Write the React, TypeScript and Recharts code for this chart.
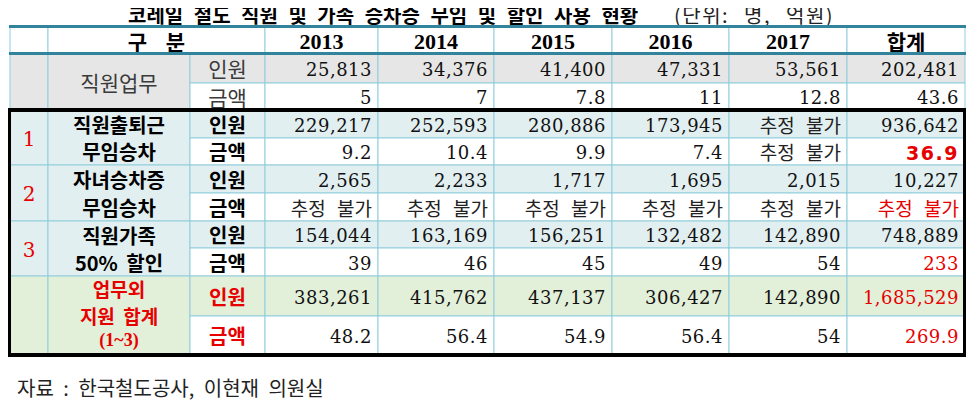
import { ScatterChart, Scatter, XAxis, YAxis } from 'recharts'

// table data (단위: 명, 억원); null = 추정 불가
const COLUMNS = ['2013', '2014', '2015', '2016', '2017', '합계']
const STAFF_PEOPLE = [25813, 34376, 41400, 47331, 53561, 202481]
const STAFF_AMOUNT = [5, 7, 7.8, 11, 12.8, 43.6]
const COMMUTE_PEOPLE = [229217, 252593, 280886, 173945, null, 936642]
const COMMUTE_AMOUNT = [9.2, 10.4, 9.9, 7.4, null, 36.9]
const CHILD_PEOPLE = [2565, 2233, 1717, 1695, 2015, 10227]
const CHILD_AMOUNT = [null, null, null, null, null, null]
const FAMILY_PEOPLE = [154044, 163169, 156251, 132482, 142890, 748889]
const FAMILY_AMOUNT = [39, 46, 45, 49, 54, 233]
const TOTAL_PEOPLE = [383261, 415762, 437137, 306427, 142890, 1685529]
const TOTAL_AMOUNT = [48.2, 56.4, 54.9, 56.4, 54, 269.9]

const GROUP_NUMBERS = ['', '1', '2', '3', '']
const GROUP_LABELS = [
  ['직원업무'],
  ['직원출퇴근', '무임승차'],
  ['자녀승차증', '무임승차'],
  ['직원가족', '50% 할인'],
  ['업무외', '지원 합계', '(1~3)'],
]
const MEASURES = ['인원', '금액']
const TITLE = '코레일 철도 직원 및 가족 승차증 무임 및 할인 사용 현황'
const UNIT = '(단위: 명, 억원)'
const SOURCE = '자료 : 한국철도공사, 이현재 의원실'

const GROUP_VALUES = [
  [STAFF_PEOPLE, STAFF_AMOUNT],
  [COMMUTE_PEOPLE, COMMUTE_AMOUNT],
  [CHILD_PEOPLE, CHILD_AMOUNT],
  [FAMILY_PEOPLE, FAMILY_AMOUNT],
  [TOTAL_PEOPLE, TOTAL_AMOUNT],
]

// layout
const W = 974
const H = 402
const COL_EDGES = [10, 48, 190, 265, 378, 494, 612, 729, 847, 965]
const ROW_EDGES = [27, 53, 83, 110, 138, 165, 193, 221, 248, 276, 316, 355]
const GROUP_FILLS = ['#e6e6e6', '#e2eff1', '#e2eff1', '#e2eff1', '#e2efd9']
const GRID = '#92cddc'
const TEAL = '#31849b'
const RED = '#e60000'
const KO = '"Noto Sans CJK KR", sans-serif'
const NUM = '"DejaVu Serif", serif'
const HEAD = '"Liberation Serif", serif'

interface TextLine {
  text: string
  dy?: number
  anchor?: 'start' | 'middle' | 'end'
  font?: string
  size?: number
  weight?: string | number
  color?: string
  spacing?: number
  wordSpacing?: number
}

interface TableCell {
  cx: number
  cy: number
  w: number
  h: number
  fill?: string
  lines: TextLine[]
}

const fmt = (v: number | null, people: boolean) =>
  v == null ? '추정 불가' : people ? v.toLocaleString('en-US') : String(v)

function buildCells(): TableCell[] {
  const cells: TableCell[] = []
  const push = (c0: number, c1: number, r0: number, r1: number, fill: string | undefined, lines: TextLine[]) => {
    const x0 = COL_EDGES[c0]
    const x1 = COL_EDGES[c1]
    const y0 = ROW_EDGES[r0]
    const y1 = ROW_EDGES[r1]
    cells.push({ cx: (x0 + x1) / 2, cy: (y0 + y1) / 2, w: x1 - x0, h: y1 - y0, fill, lines })
  }

  // header
  push(0, 1, 0, 1, '#ffffff', [])
  push(1, 3, 0, 1, '#ffffff', [{ text: '구 분', font: KO, size: 21, weight: 700, wordSpacing: 14, dy: 1 }])
  COLUMNS.forEach((c, i) => {
    const isKo = i === COLUMNS.length - 1
    push(3 + i, 4 + i, 0, 1, '#ffffff', [
      { text: c, font: isKo ? KO : HEAD, size: isKo ? 21 : 22, weight: 700, dy: 1 },
    ])
  })

  GROUP_VALUES.forEach((vals, g) => {
    const r0 = 1 + 2 * g
    const fill = GROUP_FILLS[g]
    const isStaff = g === 0
    const isTotal = g === 4
    const labelColor = isTotal ? RED : isStaff ? '#3a3a3a' : '#000'
    const labelWeight = isStaff ? 400 : 700

    push(0, 1, r0, r0 + 2, fill, GROUP_NUMBERS[g]
      ? [{ text: GROUP_NUMBERS[g], font: NUM, size: 20, color: RED, dy: 1 }]
      : [])

    const labels = GROUP_LABELS[g]
    const offsets = labels.length === 1 ? [0] : labels.length === 2 ? [-13.5, 14] : [-27, 0, 24]
    push(1, 2, r0, r0 + 2, fill, labels.map((t, k) => ({
      text: t,
      dy: offsets[k],
      font: t.startsWith('(') ? HEAD : KO,
      size: t.startsWith('(') ? 18 : isStaff ? 21 : isTotal ? 19 : 20,
      weight: labelWeight,
      color: labelColor,
      wordSpacing: 4,
    })))

    MEASURES.forEach((m, k) => {
      push(2, 3, r0 + k, r0 + k + 1, k === 0 ? fill : '#ffffff', [
        { text: m, font: KO, size: isStaff ? 21 : 20, weight: labelWeight, color: labelColor },
      ])
      vals[k].forEach((v, i) => {
        const isSum = i === COLUMNS.length - 1
        const red = isSum && !isStaff && (k === 1 || isTotal)
        const text = fmt(v, k === 0)
        const line: TextLine = v == null
          ? { text, anchor: 'end', font: KO, size: 19, wordSpacing: 7, color: red ? RED : '#222' }
          : { text, anchor: 'end', font: NUM, size: 18, spacing: 0.5, color: red ? RED : '#111', dy: 1 }
        if (red && g === 1 && v != null) {
          Object.assign(line, { font: '"DejaVu Sans", sans-serif', size: 19, weight: 700, spacing: 1.5 })
        }
        push(3 + i, 4 + i, r0 + k, r0 + k + 1, k === 0 ? fill : '#ffffff', [line])
      })
    })
  })

  // title and source (no box)
  cells.push({
    cx: 128, cy: 14, w: 0, h: 0, lines: [
      { text: TITLE, anchor: 'start', font: KO, size: 20, weight: 700, wordSpacing: 6 },
    ],
  })
  cells.push({
    cx: 674, cy: 14, w: 0, h: 0, lines: [
      { text: UNIT, anchor: 'start', font: KO, size: 20, weight: 400, wordSpacing: 9, spacing: 1.5, color: '#222' },
    ],
  })
  cells.push({
    cx: 17, cy: 387, w: 0, h: 0, lines: [
      { text: SOURCE, anchor: 'start', font: KO, size: 20, weight: 400, wordSpacing: 5, color: '#222' },
    ],
  })
  return cells
}

const CELLS = buildCells()

// frame pieces: teal header rules and the black box around items 1-3 + total
const FRAMES = [
  { cx: (COL_EDGES[0] + COL_EDGES[9]) / 2, cy: ROW_EDGES[0] - 0.5, w: COL_EDGES[9] - COL_EDGES[0] + 2, h: 0, stroke: TEAL, sw: 3 },
  { cx: (COL_EDGES[0] + COL_EDGES[9]) / 2, cy: ROW_EDGES[1] + 0.5, w: COL_EDGES[9] - COL_EDGES[0] + 2, h: 0, stroke: TEAL, sw: 3 },
  {
    cx: (COL_EDGES[0] + COL_EDGES[9]) / 2 - 0.5,
    cy: (ROW_EDGES[3] + ROW_EDGES[11]) / 2,
    w: COL_EDGES[9] - COL_EDGES[0] + 1,
    h: ROW_EDGES[11] - ROW_EDGES[3],
    stroke: '#000',
    sw: 4,
  },
]

function CellShape(props: any) {
  const { cx, cy, payload } = props
  const c = payload as TableCell
  const x0 = cx - c.w / 2
  const y0 = cy - c.h / 2
  return (
    <g>
      {c.fill && (
        <rect x={x0} y={y0} width={c.w} height={c.h} fill={c.fill} stroke={GRID} strokeWidth={1} />
      )}
      {c.lines.map((l, i) => {
        const anchor = l.anchor ?? 'middle'
        const x = anchor === 'end' ? x0 + c.w - 6 : anchor === 'start' ? x0 : cx
        return (
          <text
            key={i}
            x={x}
            y={cy + (l.dy ?? 0)}
            textAnchor={anchor}
            dominantBaseline="central"
            fontFamily={l.font ?? KO}
            fontSize={l.size ?? 18}
            fontWeight={l.weight ?? 400}
            fill={l.color ?? '#000'}
            letterSpacing={l.spacing ?? 0}
            style={{ wordSpacing: l.wordSpacing ?? 0, whiteSpace: 'pre' }}
          >
            {l.text}
          </text>
        )
      })}
    </g>
  )
}

function FrameShape(props: any) {
  const { cx, cy, payload } = props
  const f = payload
  if (f.h === 0) {
    return <line x1={cx - f.w / 2} x2={cx + f.w / 2} y1={cy} y2={cy} stroke={f.stroke} strokeWidth={f.sw} />
  }
  return (
    <rect x={cx - f.w / 2} y={cy - f.h / 2} width={f.w} height={f.h} fill="none" stroke={f.stroke} strokeWidth={f.sw} />
  )
}

export default function App() {
  return (
    <div style={{ margin: '-8px 0 0 -8px', width: W, height: H, background: '#fff' }}>
      <ScatterChart width={W} height={H} margin={{ top: 0, right: 0, bottom: 0, left: 0 }}>
        <XAxis type="number" dataKey="cx" domain={[0, W]} hide />
        <YAxis type="number" dataKey="cy" domain={[0, H]} reversed hide />
        <Scatter data={CELLS} shape={CellShape} isAnimationActive={false} />
        <Scatter data={FRAMES} shape={FrameShape} isAnimationActive={false} />
      </ScatterChart>
    </div>
  )
}
